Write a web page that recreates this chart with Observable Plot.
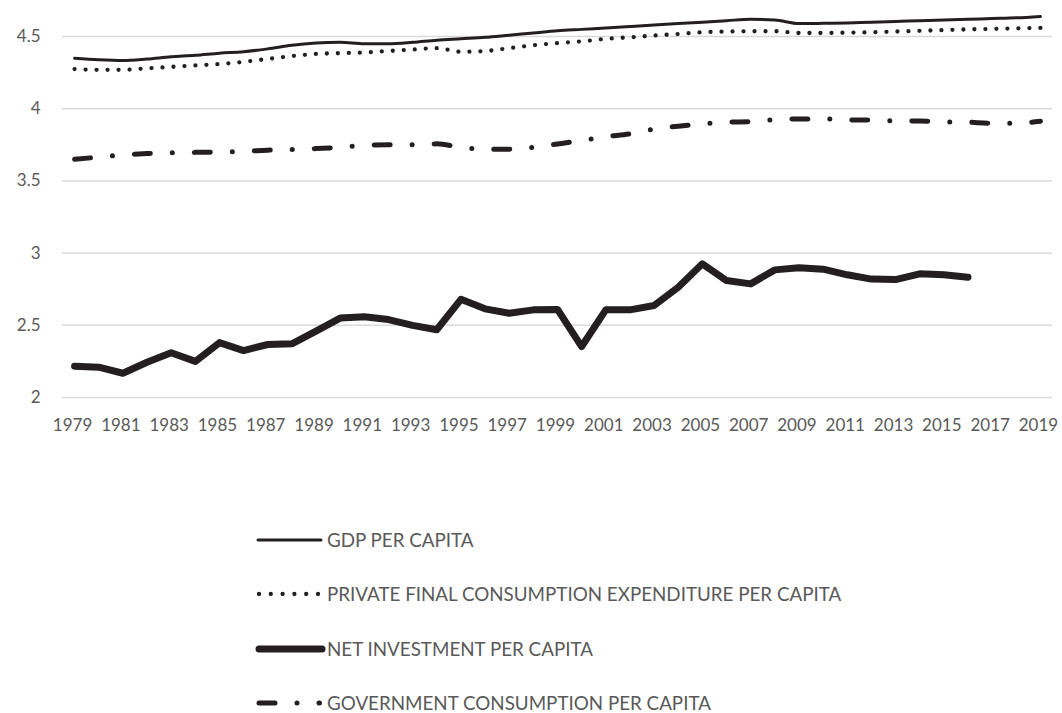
<!DOCTYPE html>
<html>
<head>
<meta charset="utf-8">
<script src="https://cdn.jsdelivr.net/npm/d3@7"></script>
<script src="https://cdn.jsdelivr.net/npm/@observablehq/plot@0.6"></script>
<style>
  html, body { margin: 0; padding: 0; background: #ffffff; }
  #wrap { position: relative; width: 1062px; height: 713px; overflow: hidden; font-family: Lato, "Open Sans", sans-serif; }
  .row { position: absolute; left: 0; height: 24px; }
  .row svg { position: absolute; left: 254px; top: 0; }
  .row span { position: absolute; left: 327px; top: 0; line-height: 24px; white-space: nowrap; color: #595959; font-size: 18.8px; }
</style>
</head>
<body>
<div id="wrap"></div>
<script>
const years = d3.range(1979, 2020);
const gdp = [4.35,4.34,4.335,4.345,4.36,4.37,4.385,4.395,4.415,4.44,4.455,4.46,4.45,4.45,4.46,4.475,4.485,4.495,4.51,4.525,4.54,4.55,4.56,4.57,4.58,4.59,4.6,4.61,4.62,4.615,4.59,4.592,4.595,4.6,4.605,4.61,4.615,4.62,4.625,4.63,4.64];
const pfce = [4.275,4.27,4.27,4.28,4.29,4.3,4.31,4.325,4.345,4.365,4.38,4.385,4.39,4.4,4.41,4.42,4.395,4.4,4.42,4.44,4.455,4.467,4.484,4.495,4.507,4.518,4.53,4.535,4.537,4.537,4.525,4.525,4.527,4.53,4.535,4.54,4.545,4.55,4.553,4.557,4.56];
const netInvestment = [2.217,2.21,2.168,2.244,2.31,2.25,2.38,2.325,2.367,2.372,2.46,2.55,2.56,2.54,2.5,2.469,2.68,2.614,2.584,2.607,2.61,2.353,2.607,2.607,2.637,2.764,2.926,2.81,2.787,2.884,2.898,2.889,2.85,2.82,2.817,2.857,2.85,2.833];
const govConsumption = [3.65,3.665,3.68,3.69,3.695,3.698,3.7,3.705,3.713,3.718,3.724,3.733,3.747,3.75,3.75,3.757,3.733,3.72,3.72,3.733,3.756,3.78,3.807,3.826,3.86,3.879,3.895,3.907,3.911,3.925,3.93,3.93,3.923,3.922,3.916,3.915,3.91,3.907,3.9,3.9,3.913];
const xTicks = d3.range(1979, 2020, 2);
const yTicks = [2, 2.5, 3, 3.5, 4, 4.5];
const seriesNames = ["GDP PER CAPITA", "PRIVATE FINAL CONSUMPTION EXPENDITURE PER CAPITA", "NET INVESTMENT PER CAPITA", "GOVERNMENT CONSUMPTION PER CAPITA"];

const toRows = arr => arr.map((v, i) => ({year: years[i], value: v}));

const chart = Plot.plot({
  width: 1062,
  height: 440,
  marginLeft: 62,
  marginRight: 10,
  marginTop: 0,
  marginBottom: 43,
  x: {domain: [1978.5, 2019.5]},
  y: {domain: [2, 4.75]},
  style: {fontFamily: "Lato, 'Open Sans', sans-serif", fontSize: "17px", color: "#595959", background: "#ffffff"},
  marks: [
    Plot.gridY(yTicks, {stroke: "#d9d9d9", strokeOpacity: 1, strokeWidth: 1.5}),
    Plot.axisY(yTicks, {tickSize: 0, tickPadding: 22, tickFormat: d => String(d), fill: "#595959", label: null}),
    Plot.axisX(xTicks, {tickSize: 0, tickPadding: 21, tickFormat: d => String(d), fill: "#595959", label: null, dx: -2}),
    Plot.line(toRows(govConsumption), {x: "year", y: "value", stroke: "#231f20", strokeWidth: 5, strokeDasharray: "16,22,0,22", strokeLinecap: "round", curve: "monotone-x"}),
    Plot.line(toRows(netInvestment), {x: "year", y: "value", stroke: "#231f20", strokeWidth: 7, strokeLinecap: "round", strokeLinejoin: "round"}),
    Plot.line(toRows(pfce), {x: "year", y: "value", stroke: "#231f20", strokeWidth: 4.3, strokeDasharray: "0,11", strokeLinecap: "round", curve: "monotone-x"}),
    Plot.line(toRows(gdp), {x: "year", y: "value", stroke: "#231f20", strokeWidth: 3, strokeLinecap: "round", curve: "monotone-x"})
  ]
});

const wrap = document.getElementById("wrap");
wrap.appendChild(chart);

const legendStyles = [
  {w: 3, dash: null, x1: 4, x2: 67},
  {w: 4.3, dash: "0,11.8", x1: 5, x2: 65},
  {w: 7, dash: null, x1: 5, x2: 68},
  {w: 5, dash: "16,22,0,22", x1: 5, x2: 65.5}
];
const rowCenters = [539.5, 594, 648.5, 703];
seriesNames.forEach((name, i) => {
  const row = document.createElement("div");
  row.className = "row";
  row.style.top = (rowCenters[i] - 12) + "px";
  row.style.width = "1062px";
  const s = legendStyles[i];
  const svgNS = "http://www.w3.org/2000/svg";
  const svg = document.createElementNS(svgNS, "svg");
  svg.setAttribute("width", 74);
  svg.setAttribute("height", 24);
  const ln = document.createElementNS(svgNS, "line");
  ln.setAttribute("x1", s.x1); ln.setAttribute("x2", s.x2);
  ln.setAttribute("y1", 12); ln.setAttribute("y2", 12);
  ln.setAttribute("stroke", "#231f20");
  ln.setAttribute("stroke-width", s.w);
  ln.setAttribute("stroke-linecap", "round");
  if (s.dash) ln.setAttribute("stroke-dasharray", s.dash);
  svg.appendChild(ln);
  const span = document.createElement("span");
  span.textContent = name;
  row.appendChild(svg);
  row.appendChild(span);
  wrap.appendChild(row);
});
</script>
</body>
</html>
